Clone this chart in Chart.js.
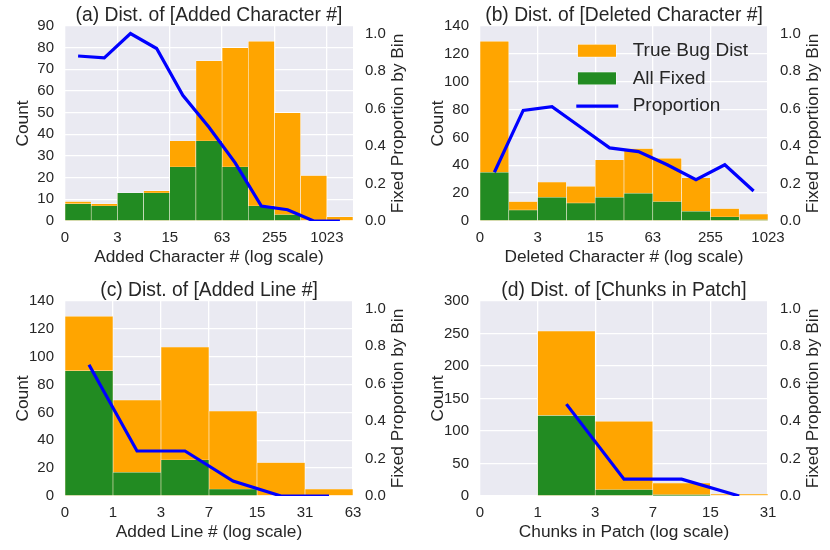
<!DOCTYPE html>
<html>
<head>
<meta charset="utf-8">
<script src="https://cdn.jsdelivr.net/npm/chart.js@4.4.1/dist/chart.umd.min.js"></script>
<style>
body { margin: 0; background: #fff; }
#wrap { position: relative; width: 830px; height: 550px; }
.cell { position: absolute; width: 415px; height: 275px; }
</style>
</head>
<body>
<div id="wrap">
	<div class="cell" style="left:0;top:0"><canvas id="chart_a" width="415" height="275"></canvas></div>
	<div class="cell" style="left:415px;top:0"><canvas id="chart_b" width="415" height="275"></canvas></div>
	<div class="cell" style="left:0;top:275px"><canvas id="chart_c" width="415" height="275"></canvas></div>
	<div class="cell" style="left:415px;top:275px"><canvas id="chart_d" width="415" height="275"></canvas></div>
</div>
<script>
// (a) added characters
var added_char_edges = ['0','1','3','7','15','31','63','127','255','511','1023','2047'];
var added_char_total = [9, 8, 13, 14, 37, 74, 80, 83, 50, 21, 2];
var added_char_fixed = [8, 7, 13, 13, 25, 37, 25, 7, 3, 0, 0];
var added_char_prop = [0.88, 0.87, 1.0, 0.92, 0.67, 0.50, 0.31, 0.08, 0.06, 0.0, 0.0];

// (b) deleted characters
var deleted_char_edges = ['0','1','3','7','15','31','63','127','255','511','1023'];
var deleted_char_total = [129, 14, 28, 25, 44, 52, 45, 31, 9, 5];
var deleted_char_fixed = [35, 8, 17, 13, 17, 20, 14, 7, 3, 1];
var deleted_char_prop = [0.26, 0.59, 0.61, 0.50, 0.39, 0.37, 0.30, 0.22, 0.30, 0.16];

// (c) added lines
var added_line_edges = ['0','1','3','7','15','31','63'];
var added_line_total = [129, 69, 107, 61, 24, 5];
var added_line_fixed = [90, 17, 26, 5, 0, 0];
var added_line_prop = [0.70, 0.24, 0.24, 0.08, 0.0, 0.0];

// (d) chunks in patch
var chunks_edges = ['0','1','3','7','15','31'];
var chunks_total = [0, 254, 115, 20, 3];
var chunks_fixed = [0, 124, 10, 2, 0];
var chunks_prop = [null, 0.49, 0.09, 0.09, 0.0];

var series_labels = ['True Bug Dist', 'All Fixed', 'Proportion'];

var FONT = '"Liberation Sans", Arial, sans-serif';
var TEXT = '#262626';
Chart.defaults.font.family = FONT;
Chart.defaults.color = TEXT;

// grey plot background, seaborn style
var bg_plugin = {
	id: 'plot_bg',
	beforeDraw: function(chart) {
		var a = chart.chartArea, ctx = chart.ctx;
		ctx.save();
		ctx.fillStyle = '#eaeaf2';
		ctx.fillRect(a.left, a.top, a.right - a.left, a.bottom - a.top);
		ctx.restore();
	}
};

// right axis title reads bottom to top like the left one
var right_title_plugin = {
	id: 'right_title',
	afterDraw: function(chart, args, opts) {
		var a = chart.chartArea, ctx = chart.ctx;
		ctx.save();
		ctx.translate(a.right + 45.3, (a.top + a.bottom) / 2);
		ctx.rotate(-Math.PI / 2);
		ctx.font = '17.3px ' + FONT;
		ctx.fillStyle = TEXT;
		ctx.textAlign = 'center';
		ctx.textBaseline = 'middle';
		ctx.fillText(opts.text, 0, 0);
		ctx.restore();
	}
};

// legend sitting inside the plot area
var inner_legend_plugin = {
	id: 'inner_legend',
	afterDatasetsDraw: function(chart, args, opts) {
		if (!opts.display) return;
		var a = chart.chartArea, ctx = chart.ctx;
		var x0 = a.right - 190.7, y0 = a.top + 24.7;
		ctx.save();
		ctx.font = '19px ' + FONT;
		ctx.textBaseline = 'middle';
		chart.data.datasets.forEach(function(ds, i) {
			var y = y0 + i * 27.7;
			if (ds.type === 'line') {
				ctx.strokeStyle = ds.borderColor;
				ctx.lineWidth = ds.borderWidth;
				ctx.beginPath();
				ctx.moveTo(x0 - 1, y);
				ctx.lineTo(x0 + 41, y);
				ctx.stroke();
			} else {
				ctx.fillStyle = 'rgba(255,255,255,0.8)';
				ctx.fillRect(x0, y - 6.7, 39.3, 13.4);
				ctx.fillStyle = ds.backgroundColor;
				ctx.fillRect(x0 + 0.6, y - 6.1, 38.1, 12.2);
			}
			ctx.fillStyle = TEXT;
			ctx.fillText(ds.label, x0 + 55.4, y);
		});
		ctx.restore();
	}
};

function to_points(values) {
	return values.map(function(v, i) { return {x: i + 0.5, y: v}; });
}

function build_hist_chart(canvas_id, title, x_title, edges, tick_every, total, fixed, prop, y_max, y_step, show_legend) {
	var ctx = document.getElementById(canvas_id);
	var n_bins = total.length;

	var hist_data = {
		datasets: [{
			type: 'bar',
			label: series_labels[0],
			data: to_points(total),
			backgroundColor: '#ffa500',
			borderColor: 'rgba(255,255,255,0.7)',
			borderWidth: 0.6,
			grouped: false,
			barPercentage: 1,
			categoryPercentage: 1,
			order: 3
		}, {
			type: 'bar',
			label: series_labels[1],
			data: to_points(fixed),
			backgroundColor: '#228b22',
			borderColor: 'rgba(255,255,255,0.7)',
			borderWidth: 0.6,
			grouped: false,
			barPercentage: 1,
			categoryPercentage: 1,
			order: 2
		}, {
			type: 'line',
			label: series_labels[2],
			data: to_points(prop),
			yAxisID: 'y2',
			borderColor: '#0000ff',
			borderWidth: 3.2,
			pointRadius: 0,
			tension: 0,
			spanGaps: false,
			order: 1
		}]
	};

	var hist_options = {
		responsive: false,
		animation: false,
		layout: { padding: 0 },
		plugins: {
			legend: { display: false },
			tooltip: { enabled: false },
			title: {
				display: true,
				text: title,
				fullSize: false,
				color: TEXT,
				font: { size: 19.3, weight: 'normal', lineHeight: 1 },
				padding: { top: 6, bottom: 0.7 }
			},
			right_title: { text: 'Fixed Proportion by Bin' },
			inner_legend: { display: show_legend }
		},
		scales: {
			x: {
				type: 'linear',
				min: 0,
				max: n_bins,
				offset: false,
				afterBuildTicks: function(scale) {
					var t = [];
					for (var i = 0; i < edges.length; i += tick_every) t.push({value: i});
					scale.ticks = t;
				},
				afterFit: function(scale) { scale.height = 54; },
				ticks: {
					padding: 8,
					font: { size: 15 },
					maxRotation: 0,
					autoSkip: false,
					callback: function(v) { return edges[v]; }
				},
				grid: { color: '#ffffff', lineWidth: 1.3, drawTicks: false, offset: false },
				border: { display: false },
				title: {
					display: true,
					text: x_title,
					font: { size: 17.3 },
					padding: { top: 0, bottom: 7.6 }
				}
			},
			y: {
				position: 'left',
				min: 0,
				max: y_max,
				afterFit: function(scale) { scale.width = 65; },
				ticks: { stepSize: y_step, padding: 11, font: { size: 15 } },
				grid: { color: '#ffffff', lineWidth: 1.3, drawTicks: false },
				border: { display: false },
				title: {
					display: true,
					text: 'Count',
					font: { size: 17.3 },
					padding: { top: 12.6, bottom: 0 }
				}
			},
			y2: {
				position: 'right',
				min: 0,
				max: 1.04,
				afterFit: function(scale) { scale.width = 62; },
				ticks: {
					stepSize: 0.2,
					includeBounds: false,
					padding: 12,
					font: { size: 15 },
					callback: function(v) { return v.toFixed(1); }
				},
				grid: { display: false, drawTicks: false },
				border: { display: false }
			}
		}
	};

	return new Chart(ctx, {
		type: 'bar',
		data: hist_data,
		options: hist_options,
		plugins: [bg_plugin, right_title_plugin, inner_legend_plugin]
	});
}

build_hist_chart('chart_a', '(a) Dist. of [Added Character #]', 'Added Character # (log scale)',
	added_char_edges, 2, added_char_total, added_char_fixed, added_char_prop, 90, 10, false);
build_hist_chart('chart_b', '(b) Dist. of [Deleted Character #]', 'Deleted Character # (log scale)',
	deleted_char_edges, 2, deleted_char_total, deleted_char_fixed, deleted_char_prop, 140, 20, true);
build_hist_chart('chart_c', '(c) Dist. of [Added Line #]', 'Added Line # (log scale)',
	added_line_edges, 1, added_line_total, added_line_fixed, added_line_prop, 140, 20, false);
build_hist_chart('chart_d', '(d) Dist. of [Chunks in Patch]', 'Chunks in Patch (log scale)',
	chunks_edges, 1, chunks_total, chunks_fixed, chunks_prop, 300, 50, false);
</script>
</body>
</html>
